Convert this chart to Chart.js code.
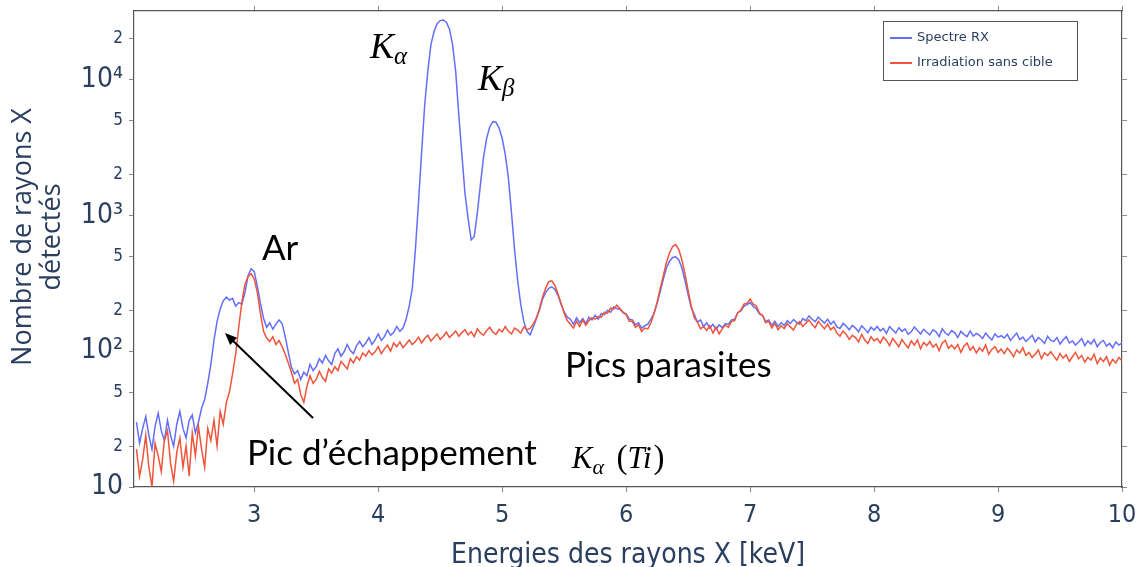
<!DOCTYPE html>
<html>
<head>
<meta charset="utf-8">
<script src="https://cdn.jsdelivr.net/npm/chart.js@4.4.1/dist/chart.umd.min.js"></script>
<style>
  html, body { margin: 0; padding: 0; background: #fff; }
  #wrap { width: 1143px; height: 567px; }
</style>
</head>
<body>
<div id="wrap"><canvas id="chart" width="1143" height="567"></canvas></div>
<script>
// energies start at 2.05 keV, one reading every 0.025 keV
const energyStart = 2.05;
const energyStep = 0.025;

// counts, one row = 0.2 keV
const spectreRX = [
  30, 21, 27, 33, 24, 19, 28, 35,            // 2.05
  26, 22, 31, 24, 20, 29, 36, 27,            // 2.25
  23, 31, 34, 25, 30, 38, 44, 58,            // 2.45
  80, 120, 165, 205, 235, 250, 238, 245,     // 2.65
  215, 228, 222, 270, 360, 405, 385, 300,    // 2.85
  225, 175, 150, 162, 145, 158, 170, 160,    // 3.05
  128, 98, 76, 68, 72, 62, 70, 66,           // 3.25
  80, 72, 77, 88, 82, 93, 85, 80,            // 3.45
  96, 104, 92, 99, 112, 101, 96, 110,        // 3.65
  118, 108, 115, 126, 112, 121, 134, 120,    // 3.85
  128, 143, 131, 138, 152, 140, 148, 172,    // 4.05
  215, 290, 560, 1250, 2900, 6500, 11500, 18000,       // 4.25
  22500, 25800, 27200, 27500, 26500, 23500, 18000, 11500, // 4.45
  5500, 2800, 1450, 950, 660, 700, 1050, 1700,         // 4.65
  2700, 3700, 4500, 4900, 4850, 4400, 3700, 2800,      // 4.85
  1900, 1050, 560, 330, 220, 165, 140, 132,  // 5.05
  150, 172, 200, 240, 270, 290, 298, 285,    // 5.25
  258, 222, 195, 178, 172, 158, 176, 162,    // 5.45
  174, 160, 178, 170, 184, 172, 190, 186,    // 5.65
  200, 194, 212, 206, 204, 192, 188, 172,    // 5.85
  170, 156, 162, 148, 154, 158, 172, 190,    // 6.05
  225, 275, 340, 410, 460, 490, 495, 470,    // 6.25
  410, 330, 260, 210, 186, 164, 170, 152,    // 6.45
  162, 148, 158, 145, 156, 149, 160, 158,    // 6.65
  170, 172, 192, 198, 214, 220, 228, 214,    // 6.85
  206, 188, 184, 166, 170, 155, 166, 152,    // 7.05
  162, 155, 168, 160, 171, 163, 158, 174,    // 7.25
  168, 182, 172, 165, 178, 169, 161, 172,    // 7.45
  158, 166, 151, 147, 160, 153, 144, 155,    // 7.65
  148, 139, 154, 146, 137, 150, 143, 152,    // 7.85
  141, 147, 135, 152, 144, 136, 149, 140,    // 8.05
  146, 133, 139, 151, 142, 134, 145, 138,    // 8.25
  132, 144, 139, 128, 146, 136, 131, 142,    // 8.45
  137, 126, 140, 133, 128, 141, 129, 135,    // 8.65
  131, 124, 136, 128, 121, 134, 127, 130,    // 8.85
  125, 133, 120, 128, 136, 122, 127, 118,    // 9.05
  124, 131, 117, 126, 121, 114, 129, 120,    // 9.25
  118, 126, 113, 121, 128, 115, 119, 111,    // 9.45
  117, 124, 110, 119, 113, 122, 108, 116,    // 9.65
  120, 109, 114, 106, 117, 111, 115          // 9.85
];

const irradiationSansCible = [
  19, 12, 16, 24, 14, 10, 21, 17,            // 2.05
  13, 22, 26, 15, 11, 18, 23, 14,            // 2.25
  20, 12, 25, 17, 28, 19, 14, 27,            // 2.45
  22, 31, 20, 36, 29, 42, 50, 68,            // 2.65
  95, 150, 230, 310, 355, 372, 340, 270,     // 2.85
  190, 140, 125, 118, 128, 112, 120, 108,    // 3.05
  95, 82, 70, 58, 62, 48, 42, 55,            // 3.25
  66, 58, 62, 71, 64, 60, 74, 69,            // 3.45
  77, 72, 84, 79, 74, 88, 82, 91,            // 3.65
  86, 97, 92, 101, 94, 99, 108, 96,          // 3.85
  104, 111, 100, 115, 108, 117, 106, 113,    // 4.05
  121, 112, 118, 127, 115, 124, 131, 119,    // 4.25
  126, 134, 122, 129, 138, 126, 133, 141,    // 4.45
  129, 137, 144, 132, 139, 128, 146, 136,    // 4.65
  131, 142, 150, 138, 133, 145, 139, 152,    // 4.85
  140, 134, 148, 143, 136, 151, 144, 147,    // 5.05
  158, 175, 205, 250, 290, 325, 330, 305,    // 5.25
  265, 225, 190, 168, 158, 148, 166, 152,    // 5.45
  170, 155, 168, 176, 172, 180, 178, 194,    // 5.65
  190, 208, 204, 218, 206, 194, 186, 166,    // 5.85
  166, 150, 156, 140, 148, 146, 162, 190,    // 6.05
  230, 290, 360, 450, 530, 590, 610, 560,    // 6.25
  470, 370, 280, 215, 176, 164, 146, 152,    // 6.45
  142, 154, 136, 150, 134, 146, 156, 150,    // 6.65
  166, 168, 192, 200, 222, 226, 242, 222,    // 6.85
  216, 190, 184, 162, 166, 148, 160, 144,    // 7.05
  154, 147, 160, 151, 143, 158, 165, 152,    // 7.25
  161, 170, 157, 149, 166, 155, 146, 158,    // 7.45
  144, 151, 136, 129, 141, 133, 122, 131,    // 7.65
  126, 117, 133, 121, 114, 128, 119, 124,    // 7.85
  115, 127, 120, 110, 124, 116, 108, 122,    // 8.05
  113, 106, 119, 111, 121, 104, 116, 110,    // 8.25
  118, 107, 113, 101, 115, 120, 105, 111,    // 8.45
  104, 112, 98, 109, 115, 102, 108, 97,      // 8.65
  106, 100, 111, 95, 103, 108, 98, 104,      // 8.85
  96, 105, 99, 91, 102, 97, 106, 93,         // 9.05
  98, 90, 95, 102, 88, 97, 93, 99,           // 9.25
  92, 86, 96, 89, 94, 84, 91, 98,            // 9.45
  88, 93, 83, 90, 86, 95, 81, 89,            // 9.65
  84, 91, 79, 87, 82, 90, 85                 // 9.85
];

const xTicks = [3, 4, 5, 6, 7, 8, 9, 10];
const yTicks = [10, 20, 50, 100, 200, 500, 1000, 2000, 5000, 10000, 20000];
const yTickLabels = ["10", "2", "5", "10²", "2", "5", "10³", "2", "5", "10⁴", "2"];

const energies = spectreRX.map((_, i) => +(energyStart + i * energyStep).toFixed(3));

const TXT = "#2a3f5f";
const AXIS_FONT = "'DejaVu Sans Condensed', 'Open Sans', sans-serif";
const NOTE_FONT = "Lato, 'Open Sans', sans-serif";
const MATH_FONT = "'Liberation Serif', 'DejaVu Serif', serif";

const toPoints = (vals) => vals.map((v, i) => ({ x: energies[i], y: v }));

const setTicks = (list) => (scale) => {
  scale.ticks = list.map((v) => ({ value: v }));
};
const fixSize = (w, h) => (scale) => {
  if (w !== null) scale.width = w;
  if (h !== null) scale.height = h;
  scale.paddingTop = 0;
  scale.paddingBottom = 0;
  scale.paddingLeft = 0;
  scale.paddingRight = 0;
};

const frameGrid = {
  drawOnChartArea: false,
  drawTicks: true,
  tickLength: 5,
  color: "#8a8a8a",
};
const frameBorder = { display: true, color: "#555", width: 1.2 };

// annotations, legend, axis titles
const extras = {
  id: "extras",
  afterDraw(chart) {
    const { ctx, chartArea: area } = chart;
    const sx = chart.scales.x, sy = chart.scales.y;
    const px = (v) => sx.getPixelForValue(v);
    const py = (v) => sy.getPixelForValue(v);

    ctx.save();
    ctx.textBaseline = "alphabetic";
    ctx.textAlign = "left";

    // labels on the plot
    ctx.fillStyle = "#000";
    ctx.font = "35px " + NOTE_FONT;
    ctx.fillText("Ar", px(3.062), py(471));
    ctx.fillText("Pics parasites", px(5.506), py(64.6));
    ctx.fillText("Pic d\u2019échappement", px(2.941), py(14.5));

    const mathLabel = (e, v, size, sub, rest) => {
      let x0 = px(e), y0 = py(v);
      ctx.font = "italic " + size + "px " + MATH_FONT;
      ctx.fillText("K", x0, y0);
      x0 += ctx.measureText("K").width;
      ctx.font = "italic " + Math.round(size * 0.7) + "px " + MATH_FONT;
      ctx.fillText(sub, x0, y0 + size * 0.18);
      x0 += ctx.measureText(sub).width;
      if (rest) {
        x0 += size * 0.4;
        ctx.font = (size + 2) + "px " + MATH_FONT;
        ctx.fillText("(", x0, y0);
        x0 += ctx.measureText("(").width;
        ctx.font = "italic " + size + "px " + MATH_FONT;
        ctx.fillText(rest, x0, y0);
        x0 += ctx.measureText(rest).width + 2;
        ctx.font = (size + 2) + "px " + MATH_FONT;
        ctx.fillText(")", x0, y0);
      }
    };
    mathLabel(3.933, 14500, 36, "α");
    mathLabel(4.804, 8430, 36, "β");
    mathLabel(5.562, 13.8, 31, "α", "Ti");

    // arrow towards the escape peak
    const ax0 = px(3.474), ay0 = py(32.2), ax1 = px(2.764), ay1 = py(136);
    const ang = Math.atan2(ay1 - ay0, ax1 - ax0);
    ctx.strokeStyle = "#000";
    ctx.lineWidth = 2;
    ctx.beginPath();
    ctx.moveTo(ax0, ay0);
    ctx.lineTo(ax1 - 6 * Math.cos(ang), ay1 - 6 * Math.sin(ang));
    ctx.stroke();
    ctx.beginPath();
    ctx.moveTo(ax1, ay1);
    ctx.lineTo(ax1 - 13 * Math.cos(ang - 0.4), ay1 - 13 * Math.sin(ang - 0.4));
    ctx.lineTo(ax1 - 13 * Math.cos(ang + 0.4), ay1 - 13 * Math.sin(ang + 0.4));
    ctx.closePath();
    ctx.fillStyle = "#000";
    ctx.fill();

    // legend box
    const lx = area.right - 239, ly = area.top + 10;
    ctx.fillStyle = "#fff";
    ctx.fillRect(lx, ly, 194, 59);
    ctx.strokeStyle = "#555";
    ctx.lineWidth = 1;
    ctx.strokeRect(lx + 0.5, ly + 0.5, 194, 59);
    const items = [["Spectre RX", "#636efa"], ["Irradiation sans cible", "#ef553b"]];
    ctx.font = "13px 'DejaVu Sans', sans-serif";
    ctx.textBaseline = "middle";
    items.forEach(([label, col], k) => {
      const yy = ly + 17 + k * 25;
      ctx.strokeStyle = col;
      ctx.lineWidth = 2;
      ctx.beginPath();
      ctx.moveTo(lx + 7, yy);
      ctx.lineTo(lx + 29, yy);
      ctx.stroke();
      ctx.fillStyle = TXT;
      ctx.fillText(label, lx + 34, yy);
    });

    // axis titles
    ctx.fillStyle = TXT;
    ctx.textAlign = "center";
    ctx.textBaseline = "alphabetic";
    ctx.font = "28px " + AXIS_FONT;
    ctx.fillText("Energies des rayons X [keV]", (area.left + area.right) / 2, 563);
    ctx.save();
    ctx.translate(0, (area.top + area.bottom) / 2 - 12);
    ctx.rotate(-Math.PI / 2);
    ctx.font = "27px 'Open Sans', sans-serif";
    ctx.fillText("Nombre de rayons X", 0, 31);
    ctx.fillText("détectés", 0, 60);
    ctx.restore();

    ctx.restore();
  },
};

new Chart(document.getElementById("chart"), {
  type: "line",
  data: {
    datasets: [
      {
        label: "Spectre RX",
        data: toPoints(spectreRX),
        borderColor: "#636efa",
        borderWidth: 1.5,
        pointRadius: 0,
        tension: 0,
        order: 1,
      },
      {
        label: "Irradiation sans cible",
        data: toPoints(irradiationSansCible),
        borderColor: "#ef553b",
        borderWidth: 1.5,
        pointRadius: 0,
        tension: 0,
        order: 0,
      },
    ],
  },
  options: {
    responsive: false,
    animation: false,
    devicePixelRatio: 1,
    layout: { padding: 0 },
    plugins: { legend: { display: false }, tooltip: { enabled: false } },
    scales: {
      x: {
        type: "linear",
        position: "bottom",
        min: 2.03,
        max: 10,
        afterBuildTicks: setTicks(xTicks),
        afterFit: fixSize(null, 80),
        grid: frameGrid,
        border: frameBorder,
        ticks: {
          autoSkip: false,
          maxRotation: 0,
          padding: 8,
          color: TXT,
          font: { family: AXIS_FONT, size: 25 },
          callback: (v) => String(v),
        },
      },
      xTop: {
        type: "linear",
        position: "top",
        min: 2.03,
        max: 10,
        afterBuildTicks: setTicks(xTicks),
        afterFit: fixSize(null, 11),
        grid: frameGrid,
        border: frameBorder,
        ticks: { display: false },
      },
      y: {
        type: "logarithmic",
        position: "left",
        min: 10,
        max: 32000,
        afterBuildTicks: setTicks(yTicks),
        afterFit: fixSize(134, null),
        grid: frameGrid,
        border: frameBorder,
        ticks: {
          autoSkip: false,
          padding: 6,
          color: TXT,
          font: (c) => ({
            family: AXIS_FONT,
            size: yTickLabels[c.index] && yTickLabels[c.index].startsWith("10") ? 28 : 17,
          }),
          callback: (v, i) => yTickLabels[i],
        },
      },
      yRight: {
        type: "logarithmic",
        position: "right",
        min: 10,
        max: 32000,
        afterBuildTicks: setTicks(yTicks),
        afterFit: fixSize(21, null),
        grid: frameGrid,
        border: frameBorder,
        ticks: { display: false },
      },
    },
  },
  plugins: [extras],
});
</script>
</body>
</html>
